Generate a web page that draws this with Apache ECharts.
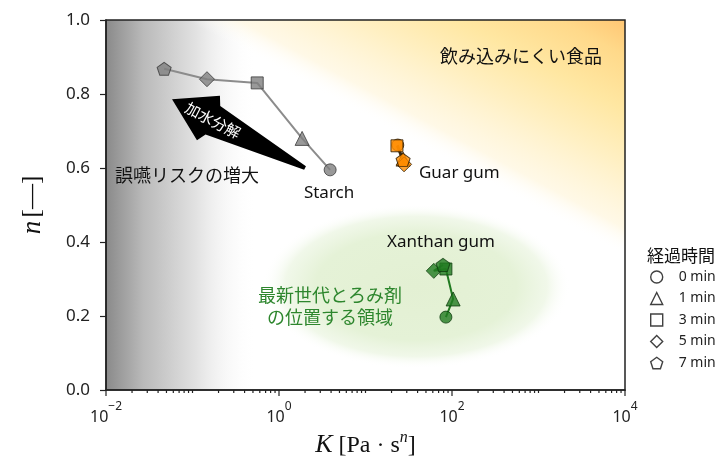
<!DOCTYPE html>
<html>
<head>
<meta charset="utf-8">
<script src="https://cdn.jsdelivr.net/npm/echarts@6/dist/echarts.min.js"></script>
<style>
  html, body { margin: 0; padding: 0; background: #fff; }
  #chart { width: 723px; height: 463px; }
</style>
</head>
<body>
<div id="chart"></div>
<script>
// Power-law fits (consistency K, flow index n) of three thickeners after 0–7 min of mixing with saliva
const TIMES = ['0 min', '1 min', '3 min', '5 min', '7 min'];
const MATERIALS = ['Starch', 'Guar gum', 'Xanthan gum'];
const starchK = [3.9, 1.85, 0.56, 0.147, 0.047];
const starchN = [0.595, 0.68, 0.83, 0.84, 0.868];
const guarK = [23.6, 27.2, 23.1, 27.9, 27.2];
const guarN = [0.662, 0.624, 0.66, 0.61, 0.622];
const xanthanK = [85, 103, 85, 61.6, 78.7];
const xanthanN = [0.197, 0.246, 0.327, 0.322, 0.338];
const X_LABEL_EXPONENTS = [-2, 0, 2, 4];
const Y_TICKS = [0, 0.2, 0.4, 0.6, 0.8, 1.0];

const K_SETS = [starchK, guarK, xanthanK];
const N_SETS = [starchN, guarN, xanthanN];

const SANS = '"Noto Sans", "Noto Sans CJK JP", sans-serif';
const JP = '"Noto Sans CJK JP", "Noto Sans", sans-serif';
const SERIF = '"Liberation Serif", "DejaVu Serif", serif';

const SYMBOLS = ['circle', 'triangle', 'rect', 'diamond',
  'path://M0,-1L0.951,-0.309L0.588,0.809L-0.588,0.809L-0.951,-0.309Z'];
const SYMBOL_SIZES = [12, 14, 12, 15, [14, 13]];
const MATERIAL_STYLE = [
  { fill: '#808080', edge: '#3a3a3a', line: '#8c8c8c' },
  { fill: '#ff8c00', edge: '#2b1a00', line: '#3b2b12' },
  { fill: '#217a21', edge: '#0f3f0f', line: '#217a21' }
];

// Annotation anchors, in data coordinates
const NOTES = [
  { text: '飲み込みにくい食品', at: [628, 0.903], align: 'center', color: '#111', font: JP, size: 18 },
  { text: '誤嚥リスクの増大', at: [0.0127, 0.58], align: 'left', color: '#111', font: JP, size: 18 },
  { text: 'Starch', at: [3.79, 0.531], align: 'center', color: '#111', font: SANS, size: 17 },
  { text: 'Guar gum', at: [41.5, 0.586], align: 'left', color: '#111', font: SANS, size: 17 },
  { text: 'Xanthan gum', at: [74.6, 0.40], align: 'center', color: '#111', font: SANS, size: 17 },
  { text: '最新世代とろみ剤', at: [3.89, 0.257], align: 'center', color: '#2d862d', font: JP, size: 18 },
  { text: 'の位置する領域', at: [3.89, 0.197], align: 'center', color: '#2d862d', font: JP, size: 18 }
];
const ARROW_TIP = [0.058, 0.786];
const ARROW_TAIL = [2.0, 0.6];
const ARROW_TEXT = '加水分解';

// Shaded regions, in data coordinates
const RISK_EDGE_K = 0.55;
const HARD_ZONE = [[0.084, 1.0], [10000, 1.0], [10000, 0.36]];
const TARGET_ZONE = { center: [38.4, 0.28], kLeft: 0.6, kRight: 2200, nTop: 0.50, nBottom: 0.055 };

// Log-axis ticks: long at every labelled decade, short elsewhere
const tickData = [];
for (let e = -2; e <= 3; e++) {
  for (let m = 1; m <= 9; m++) {
    const major = (m === 1 && X_LABEL_EXPONENTS.indexOf(e) >= 0) ? 1 : 0;
    tickData.push([m * Math.pow(10, e), major]);
  }
}
tickData.push([10000, 1]);

function renderBackground(params, api) {
  const cs = params.coordSys;
  const edgeX = api.coord([RISK_EDGE_K, 0])[0];
  const pts = HARD_ZONE.map(p => api.coord(p));
  // gradient runs from the zone's diagonal edge to its corner
  const A = pts[0], B = pts[1], C = pts[2];
  const dx = C[0] - A[0], dy = C[1] - A[1];
  const t = ((B[0] - A[0]) * dx + (B[1] - A[1]) * dy) / (dx * dx + dy * dy);
  const F = [A[0] + t * dx, A[1] + t * dy];
  const c = api.coord(TARGET_ZONE.center);
  const xl = api.coord([TARGET_ZONE.kLeft, 0])[0];
  const xr = api.coord([TARGET_ZONE.kRight, 0])[0];
  const yt = api.coord([1, TARGET_ZONE.nTop])[1];
  const yb = api.coord([1, TARGET_ZONE.nBottom])[1];
  const rx = (xr - xl) / 2, ry = (yb - yt) / 2;
  return {
    type: 'group',
    children: [
      {
        type: 'rect',
        shape: { x: cs.x, y: cs.y, width: edgeX - cs.x, height: cs.height },
        style: {
          fill: new echarts.graphic.LinearGradient(0, 0, 1, 0, [
            { offset: 0, color: '#8a8a8a' },
            { offset: 0.25, color: '#bababa' },
            { offset: 0.6, color: '#e2e2e2' },
            { offset: 1, color: 'rgba(255,255,255,0)' }
          ])
        }
      },
      {
        type: 'polygon',
        shape: { points: pts },
        style: {
          fill: new echarts.graphic.LinearGradient(F[0], F[1], B[0], B[1], [
            { offset: 0, color: 'rgba(255,255,255,0)' },
            { offset: 0.12, color: 'rgba(255,247,225,0.8)' },
            { offset: 0.38, color: '#fff0c4' },
            { offset: 0.62, color: '#ffe7a2' },
            { offset: 0.85, color: '#ffd98a' },
            { offset: 1, color: '#ffc673' }
          ], true)
        }
      },
      {
        type: 'circle',
        x: c[0], y: c[1],
        scaleX: rx / ry,
        shape: { cx: 0, cy: 0, r: ry },
        style: {
          fill: new echarts.graphic.RadialGradient(0.5, 0.5, 0.5, [
            { offset: 0, color: '#e3f0d3' },
            { offset: 0.65, color: '#e5f2d7' },
            { offset: 0.85, color: 'rgba(231,243,219,0.6)' },
            { offset: 1, color: 'rgba(255,255,255,0)' }
          ])
        }
      }
    ]
  };
}

function renderNotes(params, api) {
  const children = NOTES.map(n => {
    const p = api.coord(n.at);
    return {
      type: 'text', x: p[0], y: p[1],
      style: { text: n.text, fontFamily: n.font, fontSize: n.size, fill: n.color,
               align: n.align, verticalAlign: 'middle' }
    };
  });
  const tip = api.coord(ARROW_TIP), tail = api.coord(ARROW_TAIL);
  const dx = tail[0] - tip[0], dy = tail[1] - tip[1];
  const L = Math.hypot(dx, dy);
  const ux = dx / L, uy = dy / L, vx = -uy, vy = ux;
  const P = (u, v) => [tip[0] + ux * u + vx * v, tip[1] + uy * u + vy * v];
  children.push({
    type: 'polygon',
    shape: { points: [P(0, 0), P(41, 25), P(46, 16), P(L, 2), P(L, -2), P(46, -16), P(41, -25)] },
    style: { fill: '#000' }
  });
  const tc = P(46, 0);
  children.push({
    type: 'text', x: tc[0], y: tc[1], rotation: -Math.atan2(dy, dx),
    style: { text: ARROW_TEXT, fontFamily: JP, fontSize: 15, fill: '#fff', align: 'center', verticalAlign: 'middle' }
  });
  return { type: 'group', children };
}

function renderTick(params, api) {
  const p = api.coord([api.value(0), 0]);
  const len = api.value(1) ? 6 : 3;
  return {
    type: 'line',
    shape: { x1: p[0], y1: p[1], x2: p[0], y2: p[1] + len },
    style: { stroke: '#222', lineWidth: 1.2 }
  };
}

const series = [
  { type: 'custom', name: 'zones', renderItem: renderBackground, data: [[1, 0.5]], z: 1, silent: true, clip: true }
];
MATERIALS.forEach((m, i) => {
  series.push({
    type: 'line', name: m, z: 2, silent: true,
    symbol: 'none', showSymbol: false,
    data: K_SETS[i].map((k, j) => [k, N_SETS[i][j]]),
    lineStyle: { color: MATERIAL_STYLE[i].line, width: 2 }
  });
});
TIMES.forEach((t, j) => {
  series.push({
    type: 'scatter', name: t, z: 3,
    symbol: SYMBOLS[j], symbolSize: SYMBOL_SIZES[j],
    data: MATERIALS.map((m, i) => ({
      value: [K_SETS[i][j], N_SETS[i][j]],
      itemStyle: { color: MATERIAL_STYLE[i].fill, borderColor: MATERIAL_STYLE[i].edge, borderWidth: 1 }
    }))
  });
});
series.push({ type: 'custom', name: 'notes', renderItem: renderNotes, data: [[1, 0.5]], z: 4, silent: true });
series.push({ type: 'custom', name: 'ticks', renderItem: renderTick, data: tickData, z: 6, silent: true, clip: false });

const chart = echarts.init(document.getElementById('chart'));
chart.setOption({
  animation: false,
  backgroundColor: '#fff',
  title: {
    text: '経過時間', left: 642, top: 242,
    textStyle: { fontFamily: JP, fontSize: 17, fontWeight: 'normal', color: '#111' }
  },
  legend: {
    orient: 'vertical', left: 645, top: 265,
    itemWidth: 12, itemHeight: 12, itemGap: 7.5,
    selectedMode: false,
    data: TIMES,
    itemStyle: { color: '#fff', borderColor: '#111', borderWidth: 1.4 },
    textStyle: { fontFamily: SANS, fontSize: 14, color: '#222', padding: [0, 0, 0, 11] }
  },
  grid: {
    left: 106, right: 98, top: 20, bottom: 73,
    show: true, borderColor: '#222', borderWidth: 1.5, z: 6,
    containLabel: false, outerBoundsMode: 'none'
  },
  xAxis: {
    type: 'log', logBase: 10, min: 0.01, max: 10000, splitNumber: 6, z: 6,
    axisLine: { lineStyle: { color: '#222', width: 1.5 } },
    axisTick: { show: false },
    splitLine: { show: false },
    axisLabel: {
      margin: 11, showMinLabel: true, showMaxLabel: true, hideOverlap: false,
      formatter: v => {
        const e = Math.round(Math.log10(v));
        if (X_LABEL_EXPONENTS.indexOf(e) < 0) return '';
        return '{b|10}{s|' + (e < 0 ? '−' : '') + Math.abs(e) + '}';
      },
      rich: {
        b: { fontFamily: SANS, fontSize: 16, color: '#222', lineHeight: 24, verticalAlign: 'bottom' },
        s: { fontFamily: SANS, fontSize: 12, color: '#222', lineHeight: 12, verticalAlign: 'top' }
      }
    },
    name: '{i|K}{r| [Pa · s}{si|n}{r|]}',
    nameLocation: 'middle', nameGap: 24,
    nameTextStyle: {
      rich: {
        i: { fontFamily: SERIF, fontStyle: 'italic', fontSize: 26, color: '#111', lineHeight: 32, verticalAlign: 'bottom' },
        r: { fontFamily: SERIF, fontSize: 24, color: '#111', lineHeight: 32, verticalAlign: 'bottom' },
        si: { fontFamily: SERIF, fontStyle: 'italic', fontSize: 16, color: '#111', lineHeight: 20, verticalAlign: 'middle', padding: [0, 0, 8, 0] }
      }
    }
  },
  yAxis: {
    type: 'value', min: 0, max: 1, interval: 0.2, z: 6,
    axisLine: { show: true, lineStyle: { color: '#222', width: 1.5 } },
    axisTick: { show: true, length: 6, lineStyle: { color: '#222', width: 1.2 } },
    splitLine: { show: false },
    axisLabel: {
      margin: 16, fontFamily: SANS, fontSize: 17, color: '#222',
      formatter: v => (Y_TICKS.indexOf(Math.round(v * 10) / 10) >= 0 ? v.toFixed(1) : '')
    },
    name: '{i|n} {r|[—]}',
    nameLocation: 'middle', nameGap: 60, nameRotate: 90,
    nameTextStyle: {
      rich: {
        i: { fontFamily: SERIF, fontStyle: 'italic', fontSize: 27, color: '#111' },
        r: { fontFamily: SERIF, fontSize: 25, color: '#111' }
      }
    }
  },
  series
});
</script>
</body>
</html>
